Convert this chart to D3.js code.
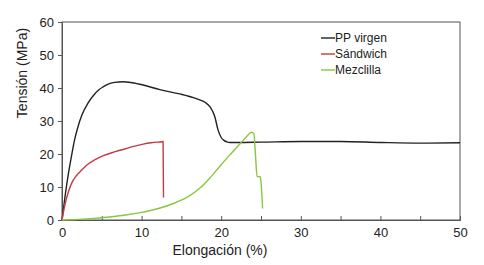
<!DOCTYPE html>
<html><head><meta charset="utf-8">
<script src="https://cdn.jsdelivr.net/npm/d3@7"></script>
<style>body{margin:0;background:#fff}text{font-family:"Liberation Sans",Arial,sans-serif}</style>
</head><body><svg id="c" width="484" height="265"></svg>
<script>
const xTicks=[0,10,20,30,40,50];
const yTicks=[0,10,20,30,40,50,60];
const seriesNames=["PP virgen","Sándwich","Mezclilla"];
const ppVirgenX=[0,0.4,0.8,1.2,1.6,2,2.5,3.3,4,4.6,5.2,5.8,6.6,7.7,8.8,10.2,12.3,14.8,16.5,17.3,18,18.6,19.2,19.6,20,20.3,20.7,21.1,22,25,30,35,40,45,50];
const ppVirgenY=[0,7.5,14,19.5,24.5,28.2,31.8,35.6,37.9,39.4,40.4,41.2,41.7,41.9,41.6,40.9,39.5,38.2,37.1,36.4,35.6,34.3,31.3,27.3,25,24.2,23.7,23.5,23.5,23.6,23.8,23.8,23.5,23.3,23.4];
const sandwichX=[0,0.4,0.8,1.2,1.8,2.5,3.2,4.1,5.2,6.7,8,9,10.2,11.2,12,12.6,12.7,12.75];
const sandwichY=[0,5,8.5,11.1,13.4,15.2,16.8,18.2,19.5,20.7,21.6,22.3,23,23.4,23.6,23.7,23.8,6.8];
const mezclillaX=[0,2,4,6,8,10,12,14,16,17.3,18.5,19.8,21,22.4,23.2,23.8,24.1,24.3,24.5,24.9,25,25.2];
const mezclillaY=[0,0.2,0.5,0.9,1.5,2.3,3.4,5,7.3,9.6,12.5,16.2,19.5,23.2,25.3,26.6,26.2,20,13.2,13.1,11.5,3.5];
const colors=["#222222","#c23b45","#8cc63f"];

const svg=d3.select("#c");
const m={l:62,r:460,t:22,b:220};
const x=d3.scaleLinear().domain([0,50]).range([m.l,m.r]);
const y=d3.scaleLinear().domain([0,60]).range([m.b,m.t]);

svg.append("rect").attr("x",m.l).attr("y",m.t).attr("width",m.r-m.l).attr("height",m.b-m.t)
 .attr("fill","none").attr("stroke","#555").attr("stroke-width",1);

const xa=svg.append("g").attr("transform",`translate(0,${m.b})`)
 .call(d3.axisBottom(x).tickValues(d3.range(0,51,5)).tickSize(-4).tickPadding(8)
 .tickFormat(d=>xTicks.includes(d)?d:""));
xa.select(".domain").attr("stroke","#555");
xa.selectAll(".tick line").attr("stroke","#555");
xa.selectAll("text").attr("font-size",13).attr("fill","#222");

const ya=svg.append("g").attr("transform",`translate(${m.l},0)`)
 .call(d3.axisLeft(y).tickValues(yTicks).tickSize(4).tickPadding(4));
ya.select(".domain").attr("stroke","#555");
ya.selectAll(".tick line").attr("stroke","#555");
ya.selectAll("text").attr("font-size",13).attr("fill","#222");

const line=d3.line().x(d=>x(d[0])).y(d=>y(d[1])).curve(d3.curveMonotoneX);
const data=[d3.zip(ppVirgenX,ppVirgenY),d3.zip(sandwichX,sandwichY),d3.zip(mezclillaX,mezclillaY)];
data.forEach((d,i)=>{
 svg.append("path").datum(d).attr("d",line).attr("fill","none")
  .attr("stroke",colors[i]).attr("stroke-width",1.4).attr("stroke-linejoin","round");
});

seriesNames.forEach((n,i)=>{
 const yy=38+i*16;
 svg.append("line").attr("x1",321).attr("x2",335).attr("y1",yy).attr("y2",yy)
  .attr("stroke",colors[i]).attr("stroke-width",1.4);
 svg.append("text").attr("x",335).attr("y",yy+4).attr("font-size",12).attr("fill","#222").text(n);
});

svg.append("text").attr("x",220).attr("y",255).attr("text-anchor","middle")
 .attr("font-size",14).attr("fill","#222").text("Elongación (%)");
svg.append("text").attr("transform",`translate(27,73) rotate(-90)`)
 .attr("text-anchor","middle").attr("font-size",14).attr("fill","#222").text("Tensión (MPa)");
</script></body></html>
